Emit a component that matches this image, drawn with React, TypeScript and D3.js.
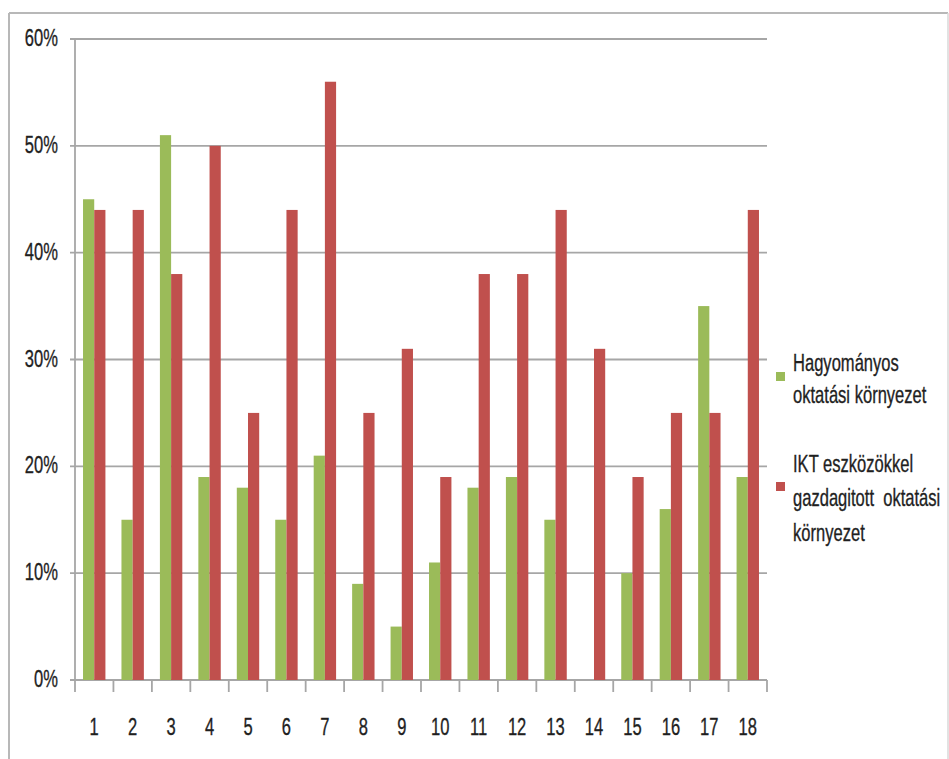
import React from "react";
import * as d3 from "d3";

const categories = ["1","2","3","4","5","6","7","8","9","10","11","12","13","14","15","16","17","18"];
const traditional = [45, 15, 51, 19, 18, 15, 21, 9, 5, 11, 18, 19, 15, 0, 10, 16, 35, 19];
const ict = [44, 44, 38, 50, 25, 44, 56, 25, 31, 19, 38, 38, 44, 31, 19, 25, 25, 44];
const yTicks = [0, 10, 20, 30, 40, 50, 60];
const legendLines = [
  ["Hagyományos", "oktatási környezet"],
  ["IKT eszközökkel", "gazdagitott  oktatási", "környezet"],
];
const colors = ["#9BBB59", "#C0504D"];

const W = 949, H = 759;
const left = 75, right = 767, top = 39, bottom = 680;
const SX = 0.69;
const FONT = "'Liberation Sans', Arial, sans-serif";

function NText({ x, y, anchor = "start", size = 24, children }: any) {
  return (
    <text
      transform={`translate(${x},${y}) scale(${SX},1)`}
      textAnchor={anchor}
      fontFamily={FONT}
      fontSize={size}
      fill="#1f1f1f"
      stroke="#1f1f1f"
      strokeWidth={0.35}
      style={{ whiteSpace: "pre" }}
    >
      {children}
    </text>
  );
}

export default function App() {
  const x = d3.scaleBand<string>().domain(categories).range([left, right]).paddingInner(0).paddingOuter(0);
  const y = d3.scaleLinear().domain([0, 60]).range([bottom, top]);
  const bw = x.bandwidth();
  const barW = 11.2;
  const series = [traditional, ict];

  return (
    <svg width={W} height={H} style={{ position: "absolute", left: 0, top: 0, background: "#fff" }}>
      {/* outer frame */}
      <line x1={9} x2={948} y1={13} y2={13} stroke="#b8b8b8" strokeWidth={2} />
      <line x1={9} x2={9} y1={13} y2={H} stroke="#b8b8b8" strokeWidth={2} />
      <line x1={948} x2={948} y1={13} y2={H} stroke="#d8d8d8" strokeWidth={1.5} />

      {/* gridlines */}
      {yTicks.map((t) => (
        <g key={t}>
          <line x1={left - 5} x2={right} y1={y(t)} y2={y(t)} stroke="#a6a6a6" strokeWidth={1.8} />
          <NText x={58} y={y(t) + 7} anchor="end">{`${t}%`}</NText>
        </g>
      ))}

      {/* y axis */}
      <line x1={left} x2={left} y1={top} y2={bottom + 12} stroke="#a6a6a6" strokeWidth={1.8} />

      {/* x ticks */}
      {categories.map((c) => (
        <line key={c} x1={(x(c) as number) + bw} x2={(x(c) as number) + bw} y1={bottom} y2={bottom + 12} stroke="#a6a6a6" strokeWidth={1.8} />
      ))}

      {/* bars */}
      {series.map((vals, si) =>
        vals.map((v, i) => {
          const cx = (x(categories[i]) as number) + bw / 2;
          const bx = si === 0 ? cx - barW : cx;
          if (v <= 0) return null;
          return (
            <rect key={`${si}-${i}`} x={bx} y={y(v)} width={barW} height={bottom - y(v)} fill={colors[si]} />
          );
        })
      )}

      {/* x labels */}
      {categories.map((c) => (
        <NText key={c} x={(x(c) as number) + bw / 2} y={735} anchor="middle">{c}</NText>
      ))}

      {/* legend */}
      <rect x={776} y={372} width={9} height={9} fill={colors[0]} />
      <NText x={793} y={371}>{legendLines[0][0]}</NText>
      <NText x={793} y={403}>{legendLines[0][1]}</NText>

      <rect x={776} y={482} width={9} height={9} fill={colors[1]} />
      <NText x={793} y={472}>{legendLines[1][0]}</NText>
      <NText x={793} y={506}>{legendLines[1][1]}</NText>
      <NText x={793} y={541}>{legendLines[1][2]}</NText>
    </svg>
  );
}
